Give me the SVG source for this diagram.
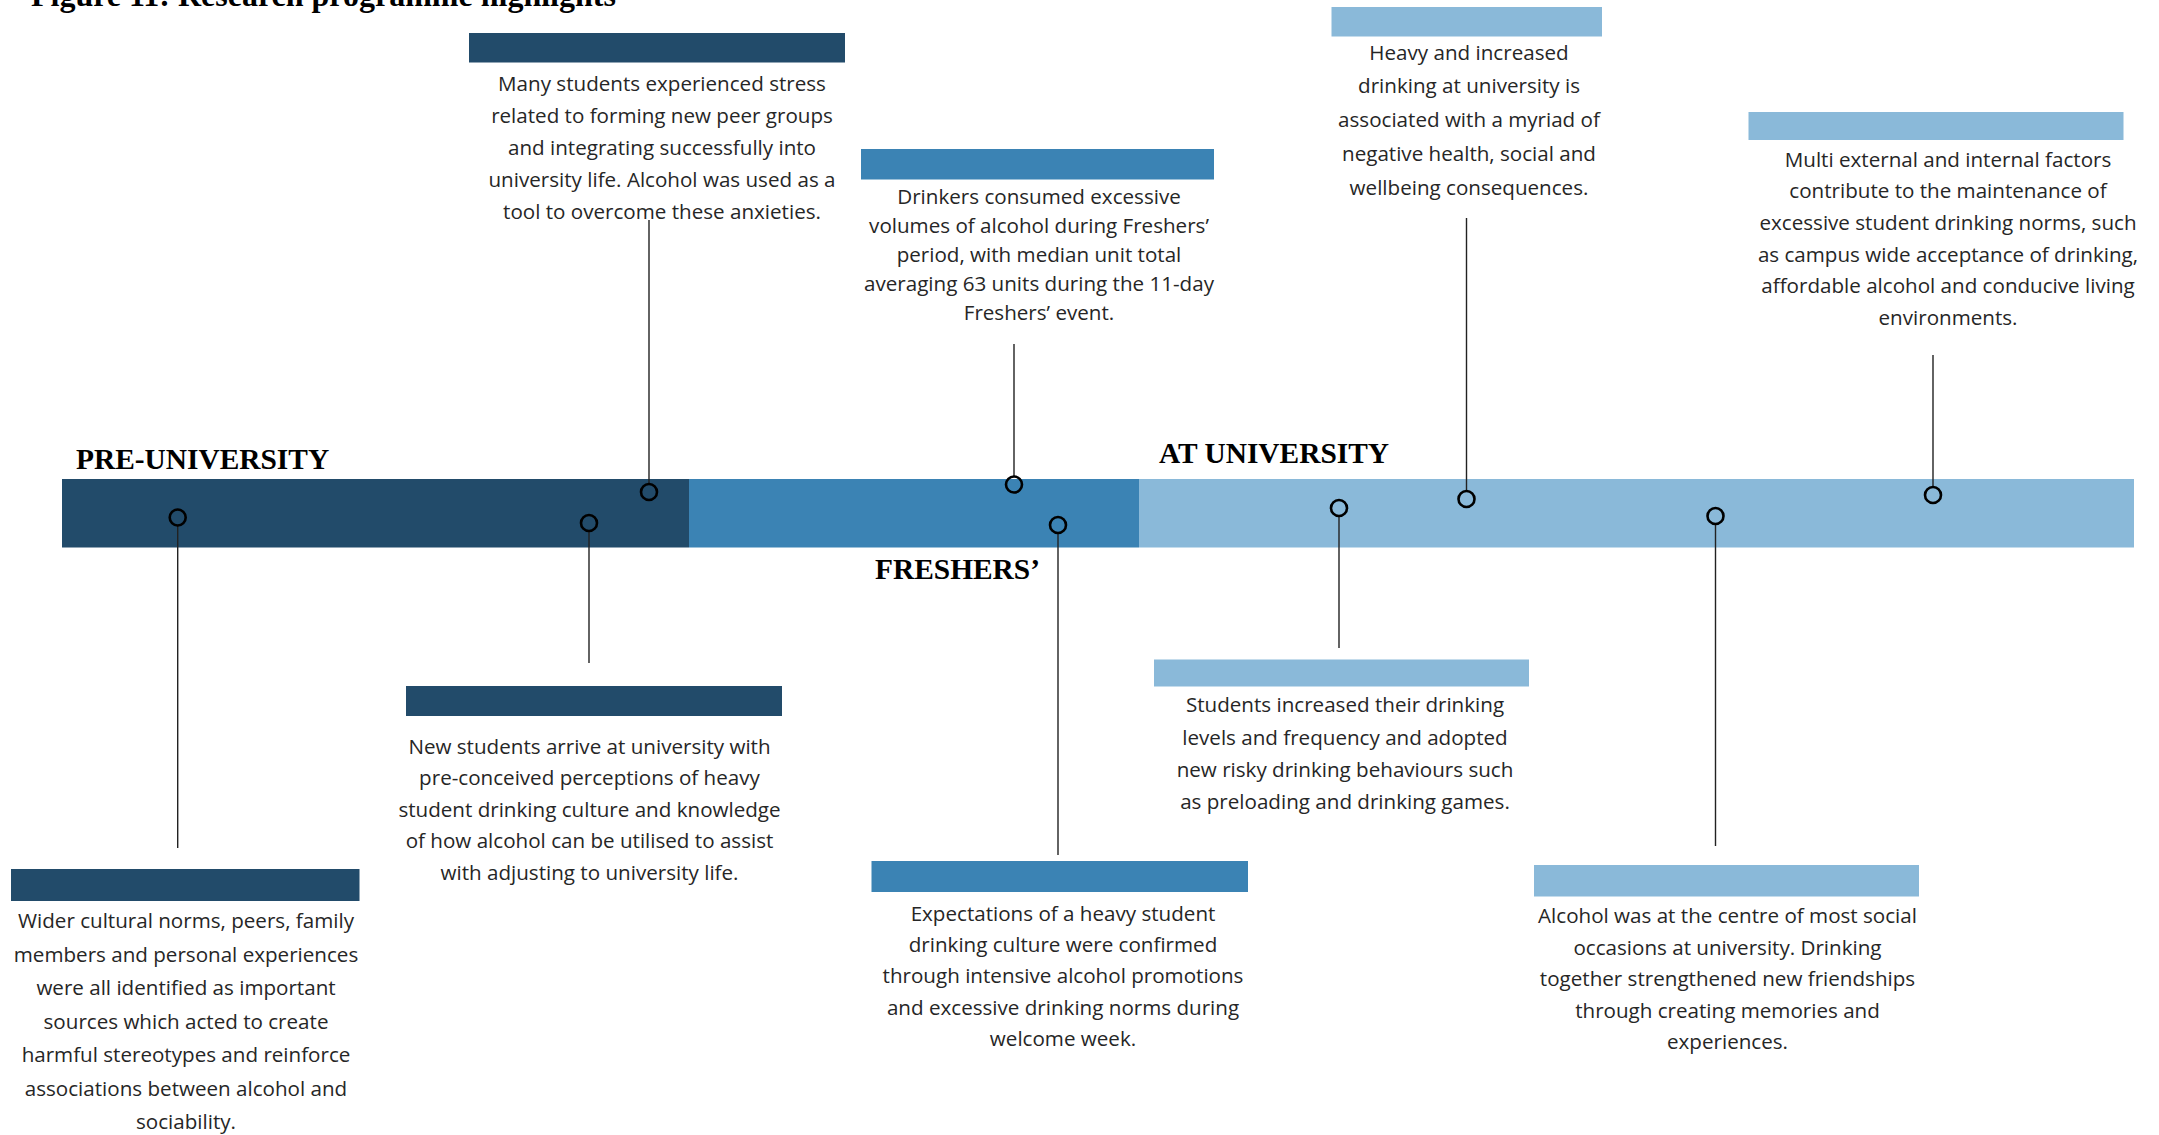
<svg xmlns="http://www.w3.org/2000/svg" width="2159" height="1135" viewBox="0 0 2159 1135">
<style>
.t{font-family:"Open Sans","Noto Sans","Liberation Sans",sans-serif;font-size:20.6px;font-weight:400;fill:#262626;text-anchor:middle}
.ph{font-family:"Liberation Serif","Times New Roman",serif;font-weight:bold;font-size:29.4px;fill:#000}
.ttl{font-family:"Liberation Serif","Times New Roman",serif;font-weight:bold;font-size:32px;fill:#000}
.dk{fill:#224B6A}.md{fill:#3B83B4}.lt{fill:#8AB9D9}
.ln{stroke:#222;stroke-width:1.4;fill:none}
.dot{stroke:#000;stroke-width:2.6;fill:none}
</style>
<rect width="2159" height="1135" fill="#fff"/>
<text class="ttl" x="31" y="5.5">Figure 11: Research programme highlights</text>

<g id="timeline">
<rect class="dk" x="62" y="479" width="627" height="68.5"/>
<rect class="md" x="689" y="479" width="450" height="68.5"/>
<rect class="lt" x="1139" y="479" width="995" height="68.5"/>
</g>

<g id="phase-labels">
<text class="ph" x="76" y="469">PRE-UNIVERSITY</text>
<text class="ph" x="875" y="579">FRESHERS’</text>
<text class="ph" x="1159" y="463">AT UNIVERSITY</text>
</g>

<g id="connectors">
<line class="ln" x1="177.7" y1="526" x2="177.7" y2="848"/>
<line class="ln" x1="589" y1="531.5" x2="589" y2="663"/>
<line class="ln" x1="649" y1="220" x2="649" y2="483.5"/>
<line class="ln" x1="1014" y1="344" x2="1014" y2="476"/>
<line class="ln" x1="1058" y1="533.5" x2="1058" y2="855"/>
<line class="ln" x1="1339" y1="516.5" x2="1339" y2="648"/>
<line class="ln" x1="1466.5" y1="218" x2="1466.5" y2="490.5"/>
<line class="ln" x1="1715.5" y1="524.5" x2="1715.5" y2="846"/>
<line class="ln" x1="1933" y1="355" x2="1933" y2="486.5"/>
<circle class="dot" cx="177.7" cy="517.5" r="8"/>
<circle class="dot" cx="589" cy="523" r="8"/>
<circle class="dot" cx="649" cy="492" r="8"/>
<circle class="dot" cx="1014" cy="484.5" r="8"/>
<circle class="dot" cx="1058" cy="525" r="8"/>
<circle class="dot" cx="1339" cy="508" r="8"/>
<circle class="dot" cx="1466.5" cy="499" r="8"/>
<circle class="dot" cx="1715.5" cy="516" r="8"/>
<circle class="dot" cx="1933" cy="495" r="8"/>
</g>

<g id="node-stress">
<rect class="dk" x="469" y="33" width="376" height="29.5"/>
<text class="t"><tspan x="662" y="91">Many students experienced stress</tspan><tspan x="662" y="123">related to forming new peer groups</tspan><tspan x="662" y="155">and integrating successfully into</tspan><tspan x="662" y="186.7">university life. Alcohol was used as a</tspan><tspan x="662" y="218.5">tool to overcome these anxieties.</tspan></text>
</g>

<g id="node-freshers-volume">
<rect class="md" x="861" y="149" width="353" height="30.5"/>
<text class="t"><tspan x="1039" y="203.5">Drinkers consumed excessive</tspan><tspan x="1039" y="232.7">volumes of alcohol during Freshers’</tspan><tspan x="1039" y="261.9">period, with median unit total</tspan><tspan x="1039" y="291.1">averaging 63 units during the 11-day</tspan><tspan x="1039" y="320.3">Freshers’ event.</tspan></text>
</g>

<g id="node-consequences">
<rect class="lt" x="1331.5" y="7" width="270.5" height="29.5"/>
<text class="t"><tspan x="1469" y="59.5">Heavy and increased</tspan><tspan x="1469" y="93.3">drinking at university is</tspan><tspan x="1469" y="127.1">associated with a myriad of</tspan><tspan x="1469" y="160.9">negative health, social and</tspan><tspan x="1469" y="194.6">wellbeing consequences.</tspan></text>
</g>

<g id="node-factors">
<rect class="lt" x="1748.5" y="112" width="375" height="28"/>
<text class="t"><tspan x="1948" y="166.7">Multi external and internal factors</tspan><tspan x="1948" y="198.3">contribute to the maintenance of</tspan><tspan x="1948" y="230">excessive student drinking norms, such</tspan><tspan x="1948" y="261.6">as campus wide acceptance of drinking,</tspan><tspan x="1948" y="293.3">affordable alcohol and conducive living</tspan><tspan x="1948" y="325">environments.</tspan></text>
</g>

<g id="node-perceptions">
<rect class="dk" x="406" y="686" width="376" height="30"/>
<text class="t"><tspan x="589.5" y="753.5">New students arrive at university with</tspan><tspan x="589.5" y="785.1">pre-conceived perceptions of heavy</tspan><tspan x="589.5" y="816.7">student drinking culture and knowledge</tspan><tspan x="589.5" y="848.3">of how alcohol can be utilised to assist</tspan><tspan x="589.5" y="879.9">with adjusting to university life.</tspan></text>
</g>

<g id="node-cultural">
<rect class="dk" x="11" y="869" width="348.5" height="32"/>
<text class="t"><tspan x="186" y="928.3">Wider cultural norms, peers, family</tspan><tspan x="186" y="961.8">members and personal experiences</tspan><tspan x="186" y="995.3">were all identified as important</tspan><tspan x="186" y="1028.8">sources which acted to create</tspan><tspan x="186" y="1062.3">harmful stereotypes and reinforce</tspan><tspan x="186" y="1095.8">associations between alcohol and</tspan><tspan x="186" y="1129.3">sociability.</tspan></text>
</g>

<g id="node-increased">
<rect class="lt" x="1154" y="659.5" width="375" height="27"/>
<text class="t"><tspan x="1345" y="712.3">Students increased their drinking</tspan><tspan x="1345" y="744.6">levels and frequency and adopted</tspan><tspan x="1345" y="776.9">new risky drinking behaviours such</tspan><tspan x="1345" y="809.2">as preloading and drinking games.</tspan></text>
</g>

<g id="node-expectations">
<rect class="md" x="871.5" y="861" width="376.5" height="31"/>
<text class="t"><tspan x="1063" y="920.7">Expectations of a heavy student</tspan><tspan x="1063" y="952">drinking culture were confirmed</tspan><tspan x="1063" y="983.4">through intensive alcohol promotions</tspan><tspan x="1063" y="1014.7">and excessive drinking norms during</tspan><tspan x="1063" y="1046">welcome week.</tspan></text>
</g>

<g id="node-social">
<rect class="lt" x="1534" y="865" width="385" height="31.5"/>
<text class="t"><tspan x="1727.5" y="923.3">Alcohol was at the centre of most social</tspan><tspan x="1727.5" y="954.8">occasions at university. Drinking</tspan><tspan x="1727.5" y="986.4">together strengthened new friendships</tspan><tspan x="1727.5" y="1017.9">through creating memories and</tspan><tspan x="1727.5" y="1049.4">experiences.</tspan></text>
</g>
</svg>
